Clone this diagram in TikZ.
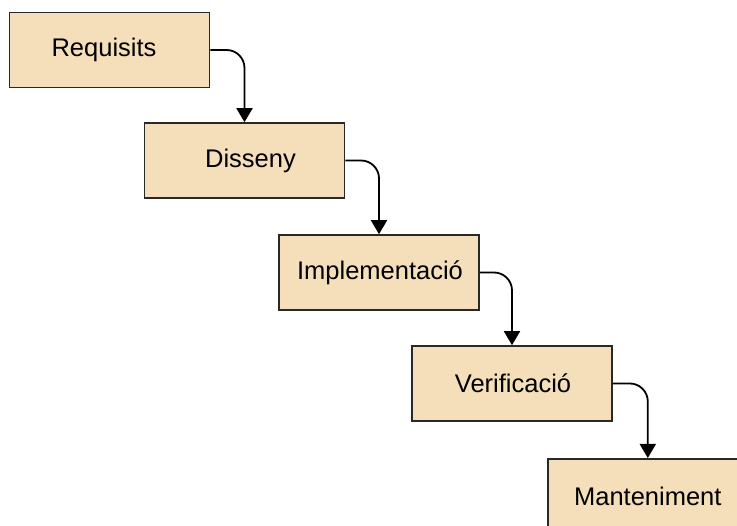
\documentclass[tikz,border=0pt]{standalone}
\usepackage{fontspec}
\setmainfont{Liberation Sans}
\usetikzlibrary{arrows.meta}
\definecolor{boxfill}{RGB}{245,223,186}
\definecolor{boxline}{RGB}{40,40,40}
\tikzset{
  stagebox/.style={draw=boxline, fill=boxfill, line width=1.6pt, minimum width=200pt, minimum height=75pt, inner sep=0pt, font=\fontsize{25.5}{30}\selectfont},
  flowarrow/.style={line width=1.8pt, rounded corners=18pt, -{Triangle[length=14pt,width=16pt]}}
}
\begin{document}
\begin{tikzpicture}[x=1pt,y=-1pt]
\useasboundingbox (0,0) rectangle (737,526);
\clip (0,0) rectangle (737,526);
\node[stagebox] (req) at (109.5,50) {\hspace*{-11pt}Requisits};
\node[stagebox] (dis) at (244.5,160.5) {\hspace*{12pt}Disseny};
\node[stagebox] (imp) at (379,272.5) {\hspace*{2pt}Implementació};
\node[stagebox] (ver) at (512,383.5) {\hspace*{2pt}Verificació};
\node[stagebox, anchor=north west] (man) at (547,458) {Manteniment};
\draw[flowarrow] (req.east) -| (dis.north);
\draw[flowarrow] (dis.east) -| (imp.north);
\draw[flowarrow] (imp.east) -| (ver.north);
\draw[flowarrow] (ver.east) -| (man.north);
\end{tikzpicture}
\end{document}
